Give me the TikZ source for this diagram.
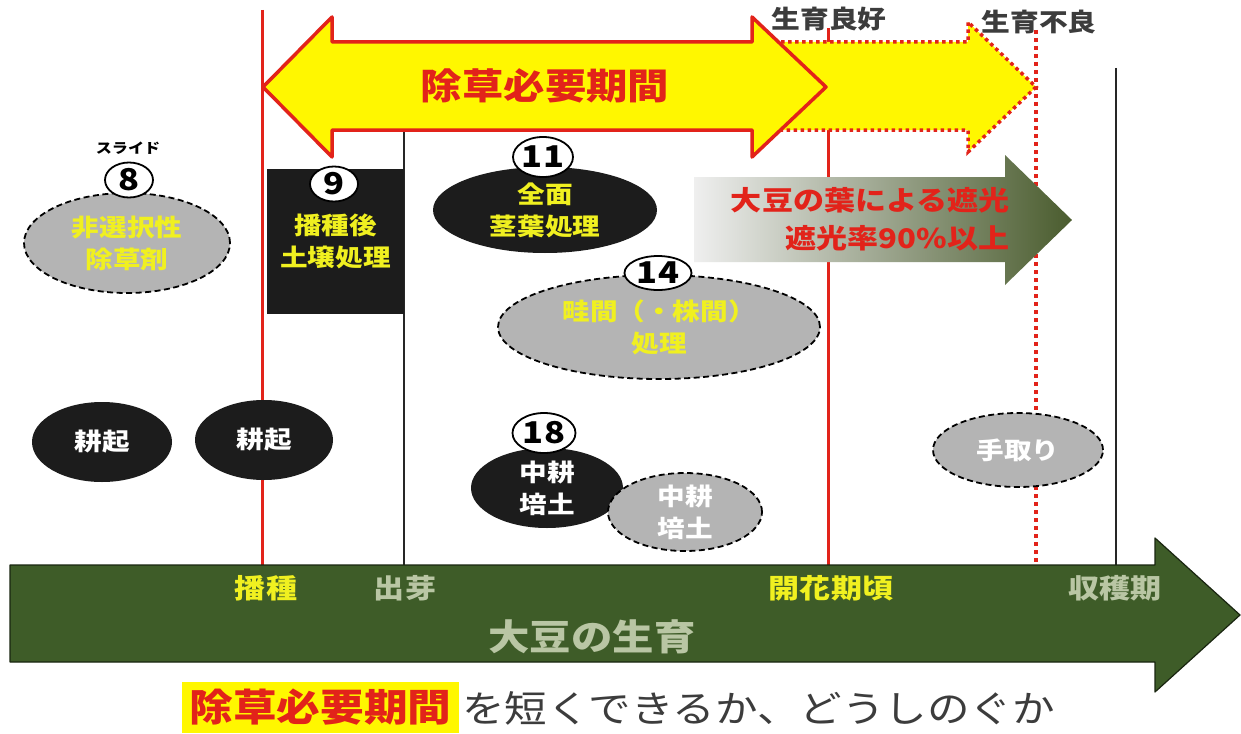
\documentclass[tikz,border=0pt]{standalone}
\usepackage{fontspec}
\setmainfont{Noto Sans CJK JP}[FakeStretch=1.15]
\usetikzlibrary{shapes.geometric}
\definecolor{ared}{HTML}{E2231A}
\definecolor{ayel}{HTML}{FFF700}
\definecolor{tyel}{HTML}{F0F020}
\definecolor{egray}{HTML}{B4B4B4}
\definecolor{eblack}{HTML}{1C1C1C}
\definecolor{dgreen}{HTML}{3E5C28}
\definecolor{lgreen}{HTML}{B9C6A4}
\definecolor{tgray}{HTML}{3C3C3C}
\definecolor{gleft}{HTML}{EFEFEF}
\definecolor{gmid}{HTML}{8E8E7C}
\definecolor{gright}{HTML}{4A5C2E}
\begin{document}
\begin{tikzpicture}[x=1pt,y=-1pt,
  etext/.style={font=\bfseries\fontsize{24}{32}\selectfont, align=center},
  blk/.style={ellipse, fill=eblack, inner sep=0, etext},
  gry/.style={ellipse, fill=egray, draw=black, line width=1.8pt, dash pattern=on 6pt off 3.5pt, inner sep=0, etext},
  num/.style={ellipse, fill=white, draw=black, line width=1.8pt, inner sep=0, font=\bfseries\fontsize{30}{30}\selectfont},
  rl/.style={draw=ared, line width=3pt},
  bl/.style={draw=black!85, line width=1.3pt},
  dl/.style={draw=ared, line width=4pt, dash pattern=on 4pt off 4pt},
  lab/.style={font=\bfseries\fontsize{27}{27}\selectfont},
]
\useasboundingbox (0,0) rectangle (1241,733);
\fill[white] (0,0) rectangle (1241,733);

% vertical reference lines
\coordinate (s0) at (262,10);  \coordinate (s1) at (262,565);
\coordinate (m0) at (404,128); \coordinate (m1) at (404,565);
\coordinate (f0) at (828,28);  \coordinate (f1) at (828,565);
\coordinate (d0) at (1036,30); \coordinate (d1) at (1036,565);
\coordinate (h0) at (1116,68); \coordinate (h1) at (1116,565);
\draw[rl] (s0) -- (s1);
\draw[bl] (m0) -- (m1);
\draw[rl] (f0) -- (f1);
\draw[dl] (d0) -- (d1);
\draw[bl] (h0) -- (h1);

% dotted extension arrow
\fill[ayel] (760,42) -- (968,42) -- (968,22) -- (1036,87) -- (968,152) -- (968,130) -- (760,130) -- cycle;
\draw[ared, line width=3.5pt, dash pattern=on 3.5pt off 3.5pt] (760,42) -- (968,42) -- (968,22) -- (1036,87) -- (968,152) -- (968,130) -- (760,130);

% main double arrow
\draw[ared, line width=3.5pt, fill=ayel, line join=round]
  (263,87) -- (332,17) -- (332,42) -- (752,42) -- (752,17) -- (826,87)
  -- (752,157) -- (752,130) -- (332,130) -- (332,157) -- cycle;
\node[text=ared, font=\bfseries\fontsize{36}{36}\selectfont] (title) at (545,86) {除草必要期間};

\node[text=tgray, font=\bfseries\fontsize{25}{25}\selectfont] (good) at (829,19) {生育良好};
\node[text=tgray, font=\bfseries\fontsize{25}{25}\selectfont] (bad) at (1039,22) {生育不良};

% shading arrow
\shade[left color=gleft, middle color=gmid, right color=gright]
  (694,177) -- (1005,177) -- (1005,155) -- (1072,220) -- (1005,285) -- (1005,262) -- (694,262) -- cycle;
\node[text=ared, font=\bfseries\fontsize{27}{27}\selectfont, anchor=east] (sh1) at (1013,200) {大豆の葉による遮光};
\node[text=ared, font=\bfseries\fontsize{27}{27}\selectfont, anchor=east] (sh2) at (1013,238) {遮光率90\%以上};

% slide 8
\node[gry, minimum width=206, minimum height=100, text=tyel] (e8) at (127,243) {非選択性\\除草剤};
\node[num, minimum width=48, minimum height=35] (c8) at (129,180) {8};
\node[font=\bfseries\fontsize{14}{14}\selectfont] (sl) at (128,148) {スライド};

% slide 9
\node[fill=eblack, minimum width=137, minimum height=145, inner sep=0, etext, text=tyel] (r9) at (335.5,241) {播種後\\土壌処理};
\node[num, minimum width=48, minimum height=35] (c9) at (334,184) {9};

% slide 11
\node[blk, minimum width=224, minimum height=86, text=tyel] (e11) at (545,210) {全面\\茎葉処理};
\node[num, minimum width=60, minimum height=40] (c11) at (543,157) {11};

% slide 14
\node[gry, minimum width=322, minimum height=104, text=tyel] (e14) at (659,327) {畦間（・株間）\\処理};
\node[num, minimum width=67, minimum height=34] (c14) at (658,273) {14};

% tillage
\node[blk, minimum width=140, minimum height=80, text=white] (k1) at (102,442) {耕起};
\node[blk, minimum width=138, minimum height=80, text=white] (k2) at (264,440) {耕起};

% slide 18
\node[blk, minimum width=152, minimum height=80, text=white] (e18) at (547,488) {中耕\\培土};
\node[gry, minimum width=154, minimum height=78, text=white] (g18) at (685,512) {中耕\\培土};
\node[num, minimum width=63, minimum height=40] (c18) at (544,433) {18};

% hand weeding
\node[gry, minimum width=170, minimum height=74, text=white] (te) at (1018,450) {手取り};

% soybean growth arrow
\draw[fill=dgreen, draw=black!60!dgreen, line width=1.2pt, line join=round]
  (10,565) -- (1155,565) -- (1155,538) -- (1240,615) -- (1155,692) -- (1155,662) -- (10,662) -- cycle;
\node[lab, text=tyel] (sow) at (266,588) {播種};
\node[lab, text=lgreen] (em) at (405,588) {出芽};
\node[lab, text=tyel] (fl) at (831,588) {開花期頃};
\node[lab, text=lgreen] (hv) at (1115,588) {収穫期};
\node[text=lgreen, font=\bfseries\fontsize{36}{36}\selectfont] (gr) at (592,637) {大豆の生育};

% bottom question
\node[fill=ayel, minimum width=277, minimum height=51, inner sep=0, text=ared, font=\bfseries\fontsize{38}{38}\selectfont] (bx) at (320.5,707.5) {除草必要期間};
\node[anchor=west, text=tgray, font=\fontsize{37}{37}\selectfont, inner sep=0] (q) at (462,708) {を短くできるか、どうしのぐか};
\end{tikzpicture}
\end{document}
